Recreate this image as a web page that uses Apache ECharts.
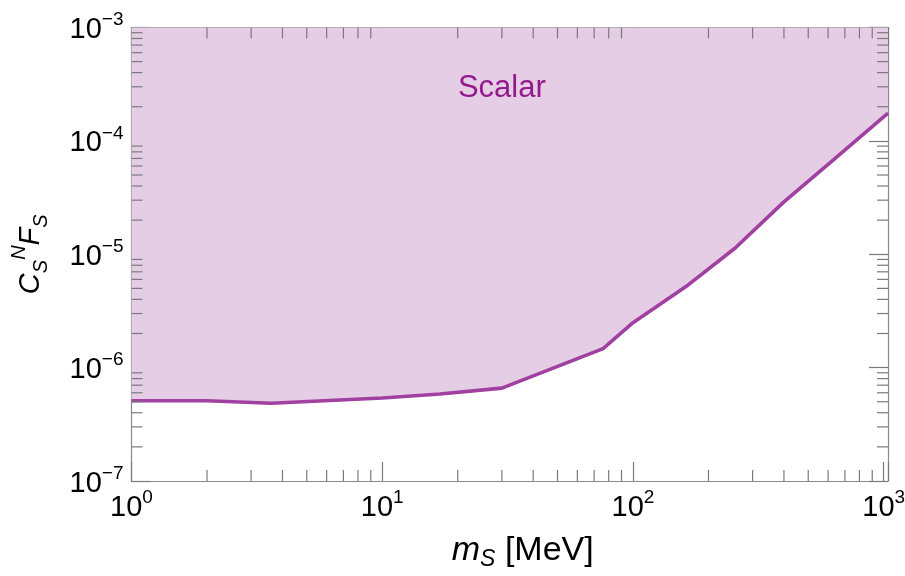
<!DOCTYPE html>
<html>
<head>
<meta charset="utf-8">
<script src="https://cdn.jsdelivr.net/npm/echarts@6/dist/echarts.min.js"></script>
<style>
  html, body { margin: 0; padding: 0; background: #fff; }
  #chart { width: 905px; height: 576px; }
</style>
</head>
<body>
<div id="chart"></div>
<script>
// Scalar coupling exclusion: lower edge of the excluded region
const massMeV  = [1, 2, 3.6, 10, 17, 30, 76, 100, 166, 255, 400, 630, 1040];
const coupling = [5.1e-7, 5.1e-7, 4.85e-7, 5.4e-7, 5.85e-7, 6.6e-7, 1.47e-6,
                  2.49e-6, 5.36e-6, 1.13e-5, 2.9e-5, 6.8e-5, 1.76e-4];

const xRange = [1, 1040];
const yRange = [1e-7, 1e-3];
const xDecades = [1, 10, 100, 1000];
const yDecades = [1e-7, 1e-6, 1e-5, 1e-4];
const minorSteps = [2, 3, 4, 5, 6, 7, 8, 9];

const regionLabel = 'Scalar';
const regionLabelAt = [30, 2.9e-4];

const FONT = '"Liberation Sans", Arial, Helvetica, sans-serif';
const FRAME = '#8a8a8a';
const TICK = '#7a7a7a';
const FILL = '#e6cde6';
const LINE = '#a040a0';
const TEXT_PURPLE = '#941a8c';

const minus = '\u2212';
function powerLabel(v) {
  const e = Math.round(Math.log10(v));
  if (Math.abs(Math.pow(10, e) - v) / v > 1e-6) return '';
  return '{b|10}{s|' + (e < 0 ? minus + (-e) : e) + '}';
}
const tickRich = {
  b: { fontFamily: FONT, fontSize: 29, color: '#000', lineHeight: 34, verticalAlign: 'bottom' },
  s: { fontFamily: FONT, fontSize: 19, color: '#000', verticalAlign: 'top' }
};

const xMinor = [];
xDecades.forEach(d => minorSteps.forEach(m => { const v = d * m; if (v < xRange[1]) xMinor.push([v, 1e-5]); }));
const yMinor = [];
yDecades.forEach(d => minorSteps.forEach(m => { yMinor.push([10, d * m]); }));

const baseAxis = {
  type: 'log',
  logBase: 10,
  axisLine: { show: true, lineStyle: { color: FRAME, width: 1.2 } },
  axisTick: { show: true, inside: true, length: 19, lineStyle: { color: TICK, width: 1.2 } },
  splitLine: { show: false },
  minorTick: { show: false },
  minorSplitLine: { show: false }
};

const chart = echarts.init(document.getElementById('chart'), null, { renderer: 'canvas' });

const option = {
  animation: false,
  backgroundColor: '#fff',
  grid: { left: 131.5, right: 17, top: 27.5, bottom: 95, outerBoundsMode: 'none', containLabel: false },
  xAxis: [
    Object.assign({}, baseAxis, {
      position: 'bottom', min: xRange[0], max: xRange[1], interval: 1,
      axisLabel: { margin: 7, formatter: powerLabel, rich: tickRich },
      name: '{i|m}{sub|S}{n| [MeV]}',
      nameLocation: 'middle', nameGap: 50,
      nameTextStyle: {
        padding: [0, 0, 0, 26],
        rich: {
          i: { fontFamily: FONT, fontStyle: 'italic', fontSize: 34, color: '#000', lineHeight: 40 },
          sub: { fontFamily: FONT, fontStyle: 'italic', fontSize: 23, color: '#000', verticalAlign: 'bottom' },
          n: { fontFamily: FONT, fontSize: 34, color: '#000', lineHeight: 40 }
        }
      }
    }),
    Object.assign({}, baseAxis, {
      position: 'top', min: xRange[0], max: xRange[1], interval: 1,
      axisLabel: { show: false }
    })
  ],
  yAxis: [
    Object.assign({}, baseAxis, {
      position: 'left', min: yRange[0], max: yRange[1], interval: 1,
      axisLabel: { margin: 8, formatter: powerLabel, rich: tickRich },
      name: '{i|C}{sub|S}{sup|N}{i|F}{sub|S}',
      nameLocation: 'middle', nameRotate: 90, nameGap: 80,
      nameTextStyle: {
        rich: {
          i: { fontFamily: FONT, fontStyle: 'italic', fontSize: 29, color: '#000', lineHeight: 42 },
          sub: { fontFamily: FONT, fontStyle: 'italic', fontSize: 20, color: '#000', verticalAlign: 'bottom' },
          sup: { fontFamily: FONT, fontStyle: 'italic', fontSize: 20, color: '#000', verticalAlign: 'top' }
        }
      }
    }),
    Object.assign({}, baseAxis, {
      position: 'right', min: yRange[0], max: yRange[1], interval: 1,
      axisLabel: { show: false }
    })
  ],
  series: [
    {
      name: regionLabel,
      type: 'line',
      data: massMeV.map((x, i) => [x, coupling[i]]),
      symbol: 'none',
      lineStyle: { color: LINE, width: 3.6 },
      areaStyle: { color: FILL, opacity: 1, origin: 'end' },
      z: 2
    },
    {
      // minor ticks along the bottom and top edges
      type: 'custom',
      data: xMinor,
      silent: true,
      z: 5,
      renderItem: function (params, api) {
        const p = api.coord([api.value(0), api.value(1)]);
        const cs = params.coordSys;
        const len = 11;
        const style = { stroke: TICK, lineWidth: 1.2 };
        return {
          type: 'group',
          children: [
            { type: 'line', shape: { x1: p[0], y1: cs.y + cs.height, x2: p[0], y2: cs.y + cs.height - len }, style },
            { type: 'line', shape: { x1: p[0], y1: cs.y, x2: p[0], y2: cs.y + len }, style }
          ]
        };
      }
    },
    {
      // minor ticks along the left and right edges
      type: 'custom',
      data: yMinor,
      silent: true,
      z: 5,
      renderItem: function (params, api) {
        const p = api.coord([api.value(0), api.value(1)]);
        const cs = params.coordSys;
        const len = 11;
        const style = { stroke: TICK, lineWidth: 1.2 };
        return {
          type: 'group',
          children: [
            { type: 'line', shape: { x1: cs.x, y1: p[1], x2: cs.x + len, y2: p[1] }, style },
            { type: 'line', shape: { x1: cs.x + cs.width, y1: p[1], x2: cs.x + cs.width - len, y2: p[1] }, style }
          ]
        };
      }
    }
  ]
};

chart.setOption(option);

const labelPos = chart.convertToPixel({ gridIndex: 0 }, regionLabelAt);
chart.setOption({
  graphic: [{
    type: 'text',
    x: labelPos[0],
    y: labelPos[1],
    z: 10,
    style: {
      text: regionLabel,
      fill: TEXT_PURPLE,
      font: '31px ' + FONT,
      textAlign: 'center',
      textVerticalAlign: 'middle'
    }
  }]
});
</script>
</body>
</html>
